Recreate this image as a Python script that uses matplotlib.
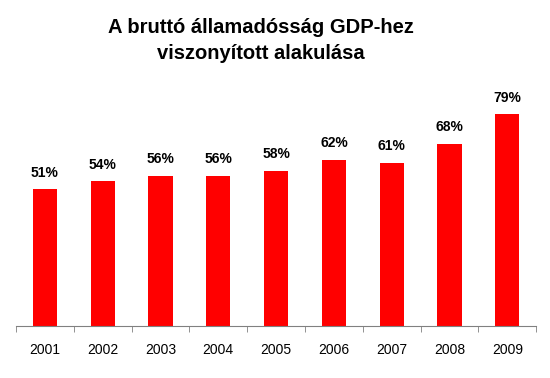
import matplotlib
matplotlib.use("Agg")
import matplotlib.pyplot as plt
import numpy as np

years = ["2001", "2002", "2003", "2004", "2005", "2006", "2007", "2008", "2009"]
values = [51, 54, 56, 56, 58, 62, 61, 68, 79]
title = "A bruttó államadósság GDP-hez\nviszonyított alakulása"

plt.rcParams['font.family'] = ['Liberation Sans', 'DejaVu Sans']

fig = plt.figure(figsize=(5.5, 3.78), dpi=100)
ax = fig.add_axes([0.029, 0.1376, 0.946, 0.638])
x = np.arange(len(years))
ax.bar(x, values, width=0.42, color='#ff0000')
for xi, v in zip(x, values):
    ax.annotate(f"{v}%", (xi, v), xytext=(0, 7), textcoords='offset points',
                ha='center', va='bottom', fontsize=10, fontweight='bold')
ax.set_xlim(-0.5, len(years) - 0.5)
ax.set_ylim(0, 90)
for s in ['top', 'right', 'left']:
    ax.spines[s].set_visible(False)
ax.spines['bottom'].set_color('#808080')
ax.set_yticks([])
ax.set_xticks(x)
ax.set_xticklabels(years, fontsize=10)
ax.tick_params(axis='x', which='major', length=0, pad=12)
ax.set_xticks(np.arange(-0.5, len(years)), minor=True)
ax.tick_params(axis='x', which='minor', length=4, color='#808080', direction='out')
fig.text(0.475, 0.952, title, ha='center', va='top', fontsize=14.5, fontweight='bold', linespacing=1.45)
fig.savefig("out.png", dpi=100)
